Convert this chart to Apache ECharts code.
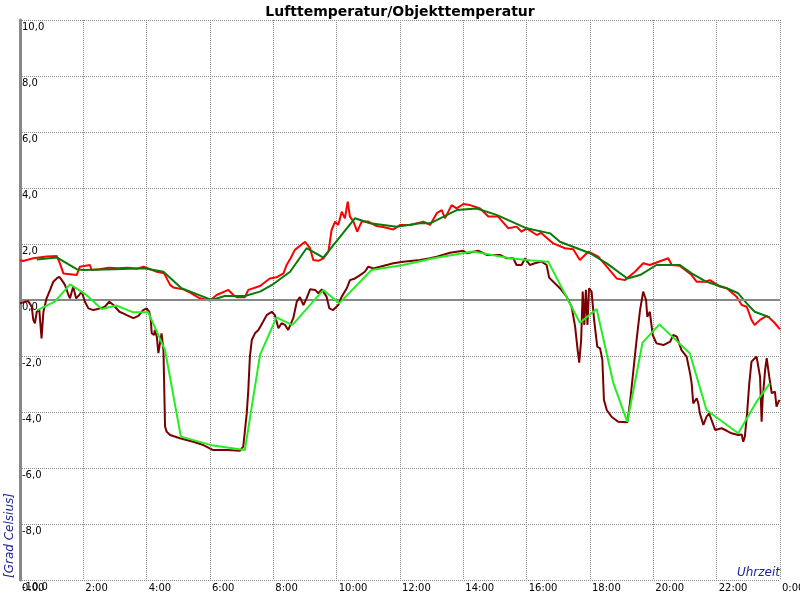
<!DOCTYPE html>
<html>
<head>
<meta charset="utf-8">
<script src="https://cdn.jsdelivr.net/npm/echarts@6/dist/echarts.min.js"></script>
<style>html,body{margin:0;padding:0;background:#fff}#c{width:800px;height:600px}</style>
</head>
<body>
<div id="c"></div>
<script>
// Tick labels
const xTickHours = [0,2,4,6,8,10,12,14,16,18,20,22,24];
const yTicks = [-10,-8,-6,-4,-2,0,2,4,6,8,10];

// Lufttemperatur (raw, red)
const airTimes = [0.0,0.1,0.42,0.84,1.16,1.26,1.37,1.42,1.79,1.89,2.21,2.26,2.5,2.8,3.1,3.4,3.7,3.9,4.32,4.55,4.74,4.84,5.16,5.37,5.68,6.0,6.21,6.58,6.74,6.84,7.1,7.21,7.58,7.89,8.1,8.32,8.42,8.55,8.68,9.0,9.16,9.26,9.42,9.58,9.74,9.84,9.95,10.05,10.16,10.26,10.35,10.42,10.53,10.65,10.79,11.0,11.26,11.5,11.79,12.0,12.32,12.74,12.95,13.16,13.32,13.42,13.63,13.79,14.0,14.21,14.53,14.79,15.1,15.42,15.68,15.84,16.0,16.32,16.45,16.84,17.21,17.47,17.68,17.95,18.26,18.53,18.84,19.1,19.42,19.68,19.89,20.32,20.47,20.58,20.84,21.21,21.37,21.63,21.79,22.1,22.32,22.63,22.79,22.95,23.1,23.2,23.37,23.58,23.68,23.84,24.0];
const airValues = [1.42,1.39,1.49,1.55,1.57,1.31,0.95,0.89,0.89,1.19,1.25,1.07,1.1,1.15,1.13,1.15,1.12,1.19,1.01,0.95,0.54,0.45,0.38,0.26,0.06,-0.02,0.18,0.36,0.18,0.1,0.1,0.36,0.5,0.77,0.81,0.95,1.25,1.5,1.79,2.08,1.85,1.43,1.4,1.49,1.73,2.5,2.8,2.68,3.15,2.92,3.51,2.98,2.8,2.44,2.8,2.8,2.64,2.6,2.52,2.68,2.68,2.8,2.68,3.1,3.21,2.92,3.39,3.27,3.43,3.39,3.27,2.98,2.98,2.56,2.62,2.44,2.56,2.32,2.4,2.02,1.85,1.81,1.43,1.73,1.55,1.19,0.77,0.71,1.01,1.31,1.25,1.43,1.49,1.25,1.22,0.89,0.65,0.65,0.71,0.48,0.42,0.12,-0.18,-0.24,-0.71,-0.89,-0.71,-0.57,-0.65,-0.83,-1.05];

// Lufttemperatur (smoothed, dark green)
const airSmoothTimes = [0.53,1.16,1.79,2.0,3.0,3.9,4.32,4.53,5.1,5.6,6.05,6.47,7.1,7.58,8.0,8.53,9.05,9.58,10.58,11.05,11.9,12.63,12.95,13.79,14.42,15.05,16.0,16.74,17.05,18.0,18.53,19.18,19.58,20.1,20.84,21.21,21.68,22.32,22.68,22.95,23.2,23.68];
const airSmoothValues = [1.45,1.52,1.1,1.07,1.1,1.13,1.05,1.01,0.42,0.2,0.0,0.14,0.14,0.3,0.57,1.01,1.85,1.51,2.92,2.74,2.62,2.74,2.74,3.21,3.27,3.04,2.56,2.38,2.08,1.67,1.31,0.77,0.89,1.25,1.25,0.95,0.65,0.42,0.24,-0.12,-0.42,-0.62];

// Objekttemperatur (raw, maroon)
const objTimes = [0.0,0.16,0.26,0.37,0.42,0.47,0.53,0.61,0.68,0.74,0.84,0.95,1.05,1.16,1.24,1.32,1.42,1.53,1.58,1.68,1.77,1.87,1.95,2.05,2.16,2.32,2.53,2.68,2.82,2.95,3.14,3.26,3.37,3.58,3.74,3.89,4.0,4.08,4.13,4.16,4.23,4.26,4.32,4.37,4.47,4.53,4.58,4.63,4.74,5.05,5.47,5.79,6.1,6.53,6.95,7.05,7.16,7.21,7.26,7.32,7.42,7.53,7.68,7.79,7.95,8.05,8.16,8.26,8.37,8.47,8.63,8.74,8.84,8.95,9.05,9.16,9.32,9.42,9.53,9.68,9.77,9.89,10.05,10.16,10.32,10.42,10.58,10.74,10.89,11.0,11.16,11.37,11.79,12.1,12.63,12.95,13.16,13.58,14.0,14.11,14.47,14.74,15.16,15.37,15.58,15.68,15.84,15.95,16.1,16.26,16.47,16.63,16.71,16.84,17.05,17.26,17.42,17.53,17.61,17.66,17.72,17.77,17.82,17.87,17.92,17.97,18.05,18.13,18.23,18.32,18.39,18.44,18.53,18.68,18.89,19.18,19.26,19.35,19.47,19.58,19.68,19.77,19.81,19.89,19.98,20.1,20.32,20.53,20.63,20.74,20.89,21.05,21.16,21.21,21.26,21.37,21.42,21.47,21.58,21.68,21.76,21.84,21.95,22.16,22.32,22.47,22.68,22.79,22.84,22.89,22.96,23.03,23.1,23.26,23.37,23.42,23.45,23.53,23.58,23.66,23.74,23.84,23.89,23.98];
const objValues = [-0.12,-0.06,-0.04,-0.24,-0.71,-0.83,-0.42,-0.36,-1.37,-0.42,0.06,0.36,0.65,0.77,0.83,0.71,0.54,0.18,0.06,0.48,0.06,0.18,0.3,-0.06,-0.3,-0.36,-0.3,-0.24,-0.06,-0.18,-0.42,-0.48,-0.54,-0.65,-0.57,-0.36,-0.3,-0.42,-0.71,-1.19,-1.25,-1.07,-1.31,-1.9,-1.19,-1.79,-4.52,-4.7,-4.82,-4.94,-5.06,-5.18,-5.36,-5.36,-5.38,-5.24,-4.05,-3.21,-2.02,-1.43,-1.19,-1.07,-0.77,-0.54,-0.42,-0.54,-1.01,-0.83,-0.89,-1.07,-0.65,-0.06,0.1,-0.18,0.06,0.38,0.36,0.24,0.38,0.12,-0.3,-0.36,-0.18,0.12,0.42,0.71,0.77,0.89,1.01,1.19,1.13,1.19,1.31,1.37,1.43,1.49,1.55,1.69,1.76,1.67,1.76,1.61,1.61,1.49,1.49,1.25,1.25,1.49,1.25,1.31,1.37,1.25,0.8,0.65,0.42,0.12,-0.24,-0.95,-1.79,-2.24,-1.43,0.3,-0.89,0.36,-0.89,0.42,0.3,-0.71,-1.67,-1.73,-2.14,-3.57,-3.93,-4.17,-4.35,-4.37,-3.69,-2.74,-1.43,-0.36,0.3,0.0,-0.6,-0.42,-1.25,-1.55,-1.61,-1.49,-1.25,-1.31,-1.79,-2.02,-2.62,-2.98,-3.69,-3.51,-3.69,-4.05,-4.46,-4.17,-4.05,-4.29,-4.64,-4.58,-4.67,-4.76,-4.82,-4.8,-5.06,-4.88,-4.05,-2.98,-2.2,-2.02,-2.74,-4.35,-3.57,-2.5,-2.08,-2.74,-3.33,-3.27,-3.81,-3.57];

// Objekttemperatur (smoothed, bright green)
const objSmoothTimes = [0.55,1.1,1.58,2.05,2.58,3.05,3.58,4.05,4.58,5.08,6.1,7.1,7.58,8.1,8.6,9.58,10.08,11.1,12.1,13.1,14.3,15.47,16.1,16.68,17.68,18.21,18.74,19.18,19.66,20.19,21.15,21.68,22.68,23.26,23.68];
const objSmoothValues = [-0.36,-0.06,0.56,0.22,-0.32,-0.2,-0.44,-0.44,-1.79,-4.88,-5.2,-5.36,-1.96,-0.62,-0.9,0.36,-0.12,1.07,1.25,1.5,1.73,1.49,1.42,1.37,-0.81,-0.32,-2.98,-4.35,-1.52,-0.87,-1.9,-3.93,-4.76,-3.63,-2.98];

const zip = (t, v) => t.map((x, i) => [x, v[i]]);
const FONT = 'DejaVu Sans';

const chart = echarts.init(document.getElementById('c'), null, {renderer: 'canvas'});
const line = (name, data, color, z) => ({
  name, type: 'line', data, showSymbol: false, symbol: 'none', z,
  lineStyle: {color, width: 2}, itemStyle: {color}, animation: false
});
const series = [
  line('Lufttemperatur', zip(airTimes, airValues), '#ff0000', 3),
  line('Lufttemperatur geglättet', zip(airSmoothTimes, airSmoothValues), '#087a08', 4),
  line('Objekttemperatur', zip(objTimes, objValues), '#7a0000', 5),
  line('Objekttemperatur geglättet', zip(objSmoothTimes, objSmoothValues), '#22ee22', 6)
];
series[0].markLine = {
  silent: true, symbol: 'none', label: {show: false},
  lineStyle: {color: '#888888', width: 2, type: 'solid'},
  data: [{yAxis: 0}], animation: false
};

chart.setOption({
  animation: false,
  backgroundColor: '#ffffff',
  title: {
    text: 'Lufttemperatur/Objekttemperatur', left: 'center', top: 0,
    textStyle: {fontFamily: FONT, fontSize: 14, fontWeight: 'bold', color: '#000'}
  },
  grid: {left: 20, right: 20, top: 20, bottom: 20, containLabel: false, outerBoundsMode: 'none'},
  xAxis: {
    type: 'value', min: 0, max: 24, interval: 2,
    axisLine: {show: false}, axisTick: {show: false},
    splitLine: {show: true, lineStyle: {color: '#8a8a8a', width: 1, type: [1, 1]}},
    axisLabel: {
      fontFamily: FONT, fontSize: 10, color: '#000', align: 'left', margin: 3, padding: [0,0,0,2],
      hideOverlap: false, showMinLabel: true, showMaxLabel: true,
      formatter: v => (v % 24) + ':00'
    }
  },
  yAxis: {
    type: 'value', min: -10, max: 10, interval: 2,
    axisLine: {show: true, lineStyle: {color: '#888888', width: 3}},
    axisTick: {show: false},
    splitLine: {show: true, lineStyle: {color: '#8a8a8a', width: 1, type: [1, 1]}},
    axisLabel: {
      inside: true, margin: 2, verticalAlign: 'top', padding: [2,0,0,0],
      fontFamily: FONT, fontSize: 10, color: '#000',
      formatter: v => v.toFixed(1).replace('.', ',')
    }
  },
  graphic: [
    {type: 'text', x: 4, y: 578, rotation: Math.PI / 2,
     style: {text: '[Grad Celsius]', fill: '#22229a', font: 'italic 12px "DejaVu Sans"', textAlign: 'left', textVerticalAlign: 'top'}},
    {type: 'text', x: 780, y: 573,
     style: {text: 'Uhrzeit', fill: '#22229a', font: 'italic 12px "DejaVu Sans"', textAlign: 'right', textVerticalAlign: 'middle'}}
  ],
  series
});
</script>
</body>
</html>
